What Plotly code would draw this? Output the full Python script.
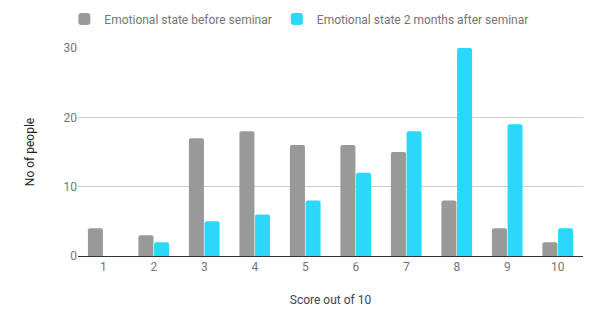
import plotly.graph_objects as go

categories = ["1", "2", "3", "4", "5", "6", "7", "8", "9", "10"]
before = [4, 3, 17, 18, 16, 16, 15, 8, 4, 2]
after = [0, 2, 5, 6, 8, 12, 18, 30, 19, 4]
series_names = ["Emotional state before seminar", "Emotional state 2 months after seminar"]
y_ticks = [0, 10, 20, 30]

fig = go.Figure()
fig.add_trace(go.Bar(x=categories, y=before, name=series_names[0],
                     marker=dict(color="#999999", cornerradius=2, line=dict(width=0))))
fig.add_trace(go.Bar(x=categories, y=after, name=series_names[1],
                     marker=dict(color="#29d8fb", cornerradius=2, line=dict(width=0))))

fig.update_layout(
    width=600, height=327,
    margin=dict(l=78, r=17, t=48, b=71, autoexpand=False),
    paper_bgcolor="white", plot_bgcolor="white",
    font=dict(family="Roboto", size=12, color="#757575"),
    barmode="group", bargap=0.38, bargroupgap=0.04,
    showlegend=True,
    legend=dict(orientation="h", x=-0.027, xanchor="left", y=1.14, yanchor="middle",
                font=dict(size=12, color="#757575"), itemsizing="constant",
                traceorder="normal", itemwidth=30, tracegroupgap=0),
    xaxis=dict(title=dict(text="Score out of 10", font=dict(size=12, color="#444444"), standoff=22),
               showgrid=False, showline=True, linecolor="#333333", linewidth=1,
               ticks="", tickfont=dict(size=12, color="#757575")),
    yaxis=dict(title=dict(text="No of people", font=dict(size=12, color="#222222"), standoff=26),
               range=[0, 30], tickvals=y_ticks, showgrid=True, gridcolor="#cccccc",
               zeroline=True, zerolinecolor="#333333", zerolinewidth=1,
               ticks="", ticklen=0, tickfont=dict(size=12, color="#757575")),
)

fig.write_html("out.html")
